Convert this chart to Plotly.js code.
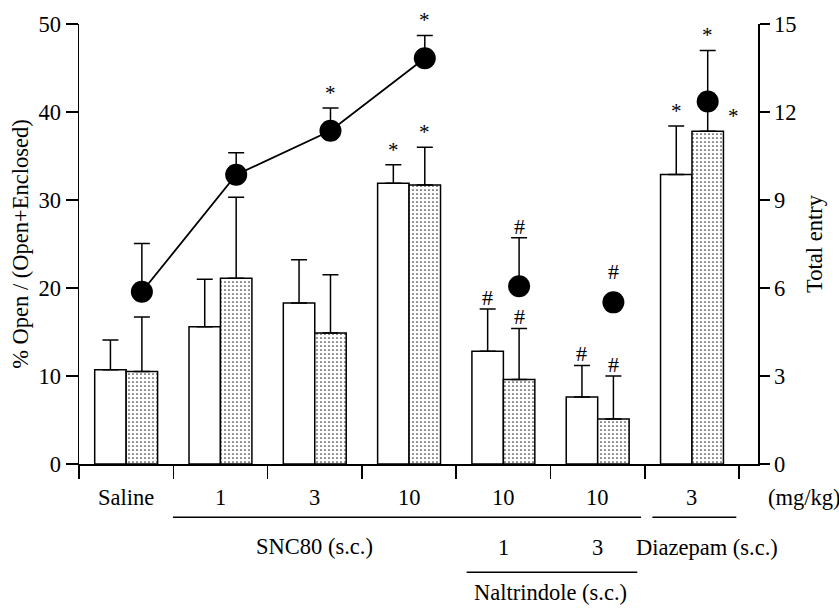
<!DOCTYPE html>
<html><head><meta charset="utf-8">
<script src="https://cdn.plot.ly/plotly-3.0.1.min.js"></script>
<style>body{margin:0;background:#fff}#c{width:839px;height:608px}</style>
</head><body><div id="c"></div>
<script>
// ---- data ----
var doseLabels = ['Saline','1','3','10','10','10','3'];
var openWhite = [10.7, 15.6, 18.3, 31.9, 12.8, 7.6, 32.9];
var openWhiteErr = [3.4, 5.4, 4.9, 2.1, 4.8, 3.6, 5.5];
var openDotted = [10.5, 21.1, 14.9, 31.7, 9.6, 5.1, 37.8];
var openDottedErr = [6.2, 9.2, 6.6, 4.3, 5.8, 4.9, 3.7];
var totalEntry = [5.87, 9.86, 11.36, 13.83, 6.06, 5.51, 12.36];
var totalEntryErr = [1.65, 0.75, 0.78, 0.78, 1.65, 0, 1.74];
var whiteMarks = ['', '', '', '*', '#', '#', '*'];
var dottedMarks = ['', '', '', '*', '#', '#', '*'];
var circleMarks = ['', '', '*', '*', '#', '#', '*'];

var FONT = 'Liberation Serif';
var FS = 22.5;
var idx = doseLabels.map(function(_, i){ return i; });
var OFF = 1/6;
var zeros = idx.map(function(){ return 0; });

var traces = [
  {type:'bar', x: idx, y: openWhite, yaxis:'y',
   marker:{color:'white', line:{color:'black', width:1.5}},
   error_y:{type:'data', symmetric:false, array: openWhiteErr, arrayminus: zeros, color:'black', thickness:1.5, width:8},
   hoverinfo:'skip'},
  {type:'bar', x: idx, y: openDotted, yaxis:'y',
   marker:{color:'white', line:{color:'black', width:1.5},
     pattern:{shape:'.', bgcolor:'white', fgcolor:'#333', size:4, solidity:0.14}},
   error_y:{type:'data', symmetric:false, array: openDottedErr, arrayminus: zeros, color:'black', thickness:1.5, width:8},
   hoverinfo:'skip'},
  {type:'scatter', mode:'lines+markers', x: idx.slice(0,4).map(function(i){return i+OFF;}), y: totalEntry.slice(0,4), yaxis:'y2',
   line:{color:'black', width:1.8}, marker:{color:'black', size:22},
   error_y:{type:'data', symmetric:false, array: totalEntryErr.slice(0,4), arrayminus:[0,0,0,0], color:'black', thickness:1.5, width:8},
   hoverinfo:'skip'},
  {type:'scatter', mode:'markers', x: idx.slice(4).map(function(i){return i+OFF;}), y: totalEntry.slice(4), yaxis:'y2',
   marker:{color:'black', size:22},
   error_y:{type:'data', symmetric:false, array: totalEntryErr.slice(4), arrayminus:[0,0,0], color:'black', thickness:1.5, width:8},
   hoverinfo:'skip'}
];

var ann = [];
function txt(x, y, t, opts){
  var a = {x:x, y:y, xref:'x', yref:'paper', text:t, showarrow:false, font:{family:FONT, size:FS, color:'black'}, xanchor:'center', yanchor:'middle'};
  for (var k in opts) a[k] = opts[k];
  ann.push(a);
}
doseLabels.forEach(function(l, i){ txt(i, -0.075, l); });
txt(6.7, -0.075, '(mg/kg)', {xshift: 46});
txt(2, -0.187, 'SNC80 (s.c.)');
txt(4, -0.19, '1');
txt(5, -0.19, '3');
txt(6, -0.19, 'Diazepam (s.c.)', {xshift: 15});
txt(4.5, -0.292, 'Naltrindole (s.c.)', {xshift: 0});

function mark(x, y, yref, t, extra){
  if (!t) return;
  var a = {x:x, y:y, xref:'x', yref:yref, text:t, showarrow:false,
    font:{family:FONT, size: t==='*' ? 21 : 22, color:'black'}, xanchor:'center', yanchor:'bottom', yshift: t==='*' ? 1 : -3};
  for (var k in extra) a[k] = extra[k];
  ann.push(a);
}
idx.forEach(function(i){
  mark(i-OFF, openWhite[i]+openWhiteErr[i], 'y', whiteMarks[i]);
  if (i === 6) {
    mark(i+OFF, openDotted[i], 'y', dottedMarks[i], {xshift: 26, yshift: 1});
  } else {
    mark(i+OFF, openDotted[i]+openDottedErr[i], 'y', dottedMarks[i]);
  }
  var top = totalEntry[i] + totalEntryErr[i];
  mark(i+OFF, top, 'y2', circleMarks[i], totalEntryErr[i] === 0 ? {yshift: 16} : {});
});

var shapes = [
  {type:'line', xref:'x', yref:'paper', x0:0.496, x1:5.46, y0:-0.121, y1:-0.121, line:{color:'black', width:1.5}},
  {type:'line', xref:'x', yref:'paper', x0:5.58, x1:6.47, y0:-0.121, y1:-0.121, line:{color:'black', width:1.5}},
  {type:'line', xref:'x', yref:'paper', x0:3.61, x1:5.42, y0:-0.246, y1:-0.246, line:{color:'black', width:1.5}}
];

var layout = {
  width:839, height:608,
  margin:{l:79, r:81, t:24, b:144},
  paper_bgcolor:'white', plot_bgcolor:'white',
  showlegend:false,
  barmode:'group', bargap:0.333, bargroupgap:0,
  font:{family:FONT, size:FS, color:'black'},
  xaxis:{range:[-0.5, 6.7], showgrid:false, zeroline:false, showline:true, linewidth:1.5, linecolor:'black',
    tickmode:'array', tickvals:[-0.5,0.5,1.5,2.5,3.5,4.5,5.5,6.5], ticks:'outside', ticklen:13, tickwidth:1.5, tickcolor:'black', showticklabels:false},
  yaxis:{range:[0,50], tickvals:[0,10,20,30,40,50], showgrid:false, zeroline:false, showline:true, linewidth:1.5, linecolor:'black',
    ticks:'outside', ticklen:12, tickwidth:1.5, tickcolor:'black', tickfont:{family:FONT, size:FS},
    title:{text:'% Open / (Open+Enclosed)', font:{family:FONT, size:FS}, standoff:3}},
  yaxis2:{range:[0,15], tickvals:[0,3,6,9,12,15], overlaying:'y', side:'right', showgrid:false, zeroline:false, showline:true, linewidth:1.5, linecolor:'black',
    ticks:'outside', ticklen:10, tickwidth:1.5, tickcolor:'black', tickfont:{family:FONT, size:FS},
    title:{text:'Total entry', font:{family:FONT, size:FS}, standoff:10}},
  annotations: ann,
  shapes: shapes
};
Plotly.newPlot('c', traces, layout, {staticPlot:true, displayModeBar:false});
</script></body></html>
